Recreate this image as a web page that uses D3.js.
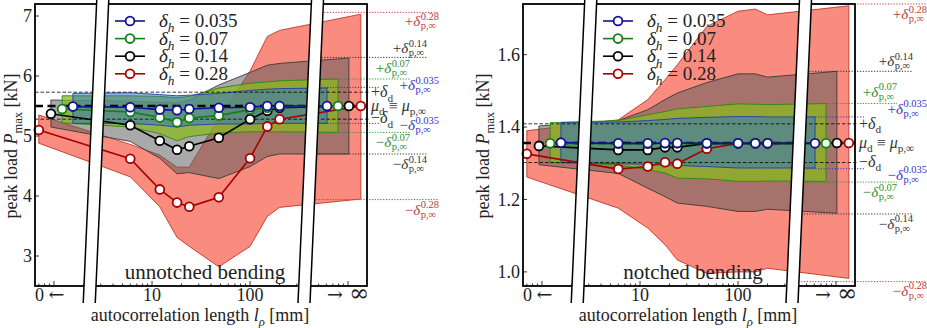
<!DOCTYPE html>
<html>
<head>
<meta charset="utf-8">
<script src="https://cdn.jsdelivr.net/npm/d3@7"></script>
<style>
body { margin: 0; background: #fff; }
#chart, #chart text { font-family: "Liberation Serif", "DejaVu Serif", serif; }
#chart text { fill: #222; }
</style>
</head>
<body>
<svg id="chart" width="927" height="328" font-family="Liberation Serif, DejaVu Serif, serif"></svg>
<script>

//data: series order is delta_h = 0.035, 0.07, 0.14, 0.28
var deltaH = [0.035, 0.07, 0.14, 0.28];
var lengths = [6, 12, 18, 24, 48, 100, 150, 200];   // finite l_rho [mm]
// where the l -> 0 and l -> inf limits sit on the log axis, one per series
var zeroAt = [1.56, 1.21, 0.93, 0.70];
var infAt = [610, 790, 1020, 1350];
var xTicks = [10, 100];

// unnotched bending, each row: [l->0, 6, 12, 18, 24, 48, 100, 150, 200, l->inf]
var unMean = [
  [5.49, 5.48, 5.44, 5.43, 5.45, 5.47, 5.48, 5.50, 5.50, 5.50],
  [5.45, 5.40, 5.31, 5.23, 5.30, 5.34, 5.44, 5.47, 5.49, 5.50],
  [5.37, 5.18, 4.92, 4.77, 4.83, 4.97, 5.28, 5.42, 5.47, 5.50],
  [5.10, 4.62, 4.11, 3.89, 3.82, 3.98, 4.63, 5.16, 5.28, 5.50]
];
var unHi = [
  [5.71, 5.72, 5.69, 5.67, 5.68, 5.71, 5.76, 5.78, 5.79, 5.80],
  [5.67, 5.67, 5.66, 5.64, 5.66, 5.80, 5.88, 5.90, 5.92, 5.95],
  [5.60, 5.58, 5.56, 5.55, 5.60, 5.85, 6.06, 6.18, 6.21, 6.30],
  [5.35, 4.86, 4.68, 4.48, 4.48, 5.30, 6.08, 6.66, 6.76, 7.03]
];
var unLo = [
  [5.21, 5.21, 5.18, 5.15, 5.18, 5.20, 5.20, 5.21, 5.21, 5.21],
  [5.22, 5.15, 5.04, 4.92, 4.99, 5.05, 5.07, 5.07, 5.07, 5.06],
  [5.15, 4.91, 4.63, 4.37, 4.39, 4.29, 4.49, 4.66, 4.70, 4.70],
  [4.88, 4.32, 3.82, 3.31, 3.16, 2.82, 3.16, 3.66, 3.81, 3.95]
];
var unTicks = [3, 4, 5, 6, 7];
var unMu = 5.50;
var unDeltaD = [5.73, 5.28];
var unInfHi = [5.81, 5.95, 6.31, 7.06];
var unInfLo = [5.21, 5.06, 4.70, 3.94];

// notched bending
var notMean = [
  [1.357, 1.355, 1.355, 1.356, 1.356, 1.355, 1.355, 1.355, 1.355, 1.355],
  [1.355, 1.354, 1.354, 1.355, 1.355, 1.355, 1.355, 1.355, 1.355, 1.355],
  [1.348, 1.337, 1.337, 1.344, 1.344, 1.355, 1.355, 1.355, 1.355, 1.356],
  [1.326, 1.284, 1.291, 1.303, 1.299, 1.340, 1.355, 1.355, 1.355, 1.356]
];
var notHi = [
  [1.413, 1.414, 1.418, 1.421, 1.424, 1.427, 1.429, 1.429, 1.428, 1.428],
  [1.412, 1.418, 1.434, 1.443, 1.450, 1.457, 1.464, 1.463, 1.462, 1.465],
  [1.403, 1.418, 1.448, 1.476, 1.494, 1.523, 1.547, 1.547, 1.538, 1.554],
  [1.390, 1.420, 1.476, 1.531, 1.572, 1.678, 1.720, 1.726, 1.710, 1.735]
];
var notLo = [
  [1.302, 1.299, 1.297, 1.295, 1.294, 1.291, 1.287, 1.287, 1.287, 1.287],
  [1.303, 1.296, 1.282, 1.273, 1.259, 1.257, 1.250, 1.250, 1.251, 1.250],
  [1.296, 1.272, 1.231, 1.208, 1.190, 1.181, 1.167, 1.167, 1.173, 1.162],
  [1.262, 1.176, 1.121, 1.075, 1.033, 0.996, 1.000, 1.000, 1.010, 0.982]
];
var notTicks = [1.0, 1.2, 1.4, 1.6];
var notMu = 1.356;
var notDeltaD = [1.409, 1.302];
var notInfHi = [1.428, 1.465, 1.554, 1.740];
var notInfLo = [1.285, 1.248, 1.160, 0.973];


//styles
var lineColor = ["#10109a", "#138013", "#000000", "#a80000"];
var bandFill = ["#2a70c8", "#8ab820", "#5a5a5a", "#f6604c"];
var bandOpacity = [0.5, 0.75, 0.52, 0.72];
var bandEdge = ["#2040a8", "#2a8a10", "#3a3a3a", "#c03828"];
var annColor = ["#3535c8", "#2f8f2f", "#333333", "#c03a3a"];
var serif = '"Liberation Serif", "DejaVu Serif", serif';

var boxW = 332, boxTop = 4, boxBottom = 286;

var panels = [
  {x0: 35, title: "unnotched bending", yDomain: [2.5, 7.2], yTicks: unTicks, fmt: d3.format("d"),
   mean: unMean, lo: unLo, hi: unHi, mu: unMu, dd: unDeltaD, infHi: unInfHi, infLo: unInfLo,
   ylabX: 17, lineEnd: [13, 43, 60, 72], labRight: [72, 43, 60, 72],
   dyHi: [3, -6, -4, 14], dyLo: [7, 15, 15, 15]},
  {x0: 523, title: "notched bending", yDomain: [0.961, 1.740], yTicks: notTicks, fmt: d3.format(".1f"),
   mean: notMean, lo: notLo, hi: notHi, mu: notMu, dd: notDeltaD, infHi: notInfHi, infLo: notInfLo,
   ylabX: 489, lineEnd: [10, 42, 58, 72], labRight: [72, 42, 58, 72],
   dyHi: [-3, -7, -5, 15], dyLo: [11, 15, 15, 14]}
];

var svg = d3.select("#chart");


//text with italic / sub / sup pieces: [text, italic, "sub"|"sup"]
function rich(text, parts, size) {
  var shift = 0;
  text.style("font-family", serif);
  parts.forEach(function(p) {
    var ts = text.append("tspan").text(p[0]);
    var target = p[2] === "sub" ? size * 0.28 : (p[2] === "sup" ? -size * 0.4 : 0);
    if (target !== shift) { ts.attr("dy", target - shift); shift = target; }
    if (p[2]) ts.style("font-size", (size * 0.7) + "px");
    if (p[1]) ts.style("font-style", "italic");
  });
  return text;
}

function txt(g, size) {
  return g.append("text").style("font-family", serif).style("font-size", size + "px");
}

// "+delta^{sup}_{p,inf}" right aligned at xr
function deltaLabel(g, xr, yb, sign, sup, color) {
  var t = g.append("g");
  var main = txt(t, 15).style("fill", color);
  main.append("tspan").text(sign);
  main.append("tspan").style("font-style", "italic").text("δ");
  var w = main.node().getComputedTextLength() + 0.5;
  var s1 = txt(t, 10.5).attr("x", w).attr("y", -6.5).style("fill", color).text(sup);
  var s2 = txt(t, 10.5).attr("x", w).attr("y", 3).style("fill", color).text("p,∞");
  var total = w + Math.max(s1.node().getComputedTextLength(), s2.node().getComputedTextLength());
  t.attr("transform", "translate(" + (xr - total) + "," + yb + ")");
}


function drawPanel(p) {
  var x0 = p.x0, x1 = p.x0 + boxW;
  var x = d3.scaleLog().domain([0.64, 1560]).range([x0, x1]);
  var y = d3.scaleLinear().domain(p.yDomain).range([boxBottom, boxTop]);
  var g = svg.append("g");

  function rows(i) {
    var ls = [zeroAt[i]].concat(lengths, [infAt[i]]);
    return ls.map(function(l, k) {
      return {l: l, m: p.mean[i][k], lo: p.lo[i][k], hi: p.hi[i][k]};
    });
  }

  //bands, widest first
  var area = d3.area()
      .x(function(d) { return x(d.l); })
      .y0(function(d) { return y(d.lo); })
      .y1(function(d) { return y(d.hi); });
  [3, 2, 1, 0].forEach(function(i) {
    g.append("path")
        .attr("d", area(rows(i)))
        .style("fill", bandFill[i])
        .style("fill-opacity", bandOpacity[i])
        .style("stroke", bandEdge[i])
        .style("stroke-width", 0.9);
  });

  //reference lines
  g.append("line")
      .attr("x1", x0).attr("x2", x1)
      .attr("y1", y(p.mu)).attr("y2", y(p.mu))
      .style("stroke", "#000").style("stroke-width", 2.6)
      .style("stroke-dasharray", "8,4.5");
  p.dd.forEach(function(v) {
    g.append("line")
        .attr("x1", x0).attr("x2", x1 + 2)
        .attr("y1", y(v)).attr("y2", y(v))
        .style("stroke", "#000").style("stroke-width", 0.8)
        .style("stroke-dasharray", "3.5,2");
  });
  [0, 1, 2, 3].forEach(function(i) {
    [p.infHi[i], p.infLo[i]].forEach(function(v) {
      g.append("line")
          .attr("x1", x(440)).attr("x2", x1 + p.lineEnd[i])
          .attr("y1", y(v)).attr("y2", y(v))
          .style("stroke", annColor[i]).style("stroke-width", 1)
          .style("stroke-dasharray", "1.2,1.6");
    });
  });

  //series lines and markers
  var line = d3.line()
      .x(function(d) { return x(d.l); })
      .y(function(d) { return y(d.m); });
  [3, 2, 1, 0].forEach(function(i) {
    g.append("path")
        .attr("d", line(rows(i)))
        .style("fill", "none")
        .style("stroke", lineColor[i])
        .style("stroke-width", 1.6);
    g.selectAll(".pt" + i)
        .data(rows(i))
        .enter()
        .append("circle")
        .attr("cx", function(d) { return x(d.l); })
        .attr("cy", function(d) { return y(d.m); })
        .attr("r", 4.4)
        .style("fill", "#fff")
        .style("stroke", lineColor[i])
        .style("stroke-width", 1.8);
  });

  //legend
  deltaH.forEach(function(dh, i) {
    var ly = boxTop + 17 + i * 17.6;
    var lx = x0 + 80;
    g.append("line")
        .attr("x1", lx).attr("x2", lx + 30)
        .attr("y1", ly).attr("y2", ly)
        .style("stroke", lineColor[i]).style("stroke-width", 1.6);
    g.append("circle")
        .attr("cx", lx + 15).attr("cy", ly).attr("r", 4.4)
        .style("fill", "#fff").style("stroke", lineColor[i]).style("stroke-width", 1.8);
    var t = txt(g, 19).attr("x", lx + 44).attr("y", ly + 6);
    rich(t, [["δ", 1], ["h", 1, "sub"], [" = " + dh, 0]], 19);
  });

  //ticks
  p.yTicks.forEach(function(v) {
    g.append("line")
        .attr("x1", x0).attr("x2", x0 + 4)
        .attr("y1", y(v)).attr("y2", y(v))
        .style("stroke", "#000").style("stroke-width", 0.8);
    txt(g, 18)
        .attr("x", x0 - 3).attr("y", y(v))
        .attr("dy", "0.35em")
        .style("text-anchor", "end")
        .text(p.fmt(v));
  });
  for (var k = -1; k <= 3; k++) {
    for (var m = 1; m <= 9; m++) {
      var v = m * Math.pow(10, k);
      if (v < 0.64 || v > 1560) continue;
      g.append("line")
          .attr("x1", x(v)).attr("x2", x(v))
          .attr("y1", boxBottom).attr("y2", boxBottom - (m === 1 ? 5 : 2.5))
          .style("stroke", "#000").style("stroke-width", 0.8);
    }
  }

  //frame
  g.append("rect")
      .attr("x", x0).attr("y", boxTop)
      .attr("width", boxW).attr("height", boxBottom - boxTop)
      .style("fill", "none").style("stroke", "#000").style("stroke-width", 1.8);

  //axis breaks
  [2.7, 419].forEach(function(b) {
    var xc = x(b), slope = 0.0446, ym = 145;
    function cx(yy) { return xc + (ym - yy) * slope; }
    var pts = [[cx(0) - 6, 0], [cx(0) + 6, 0], [cx(303) + 6, 303], [cx(303) - 6, 303]];
    g.append("polygon")
        .attr("points", pts.map(function(q) { return q.join(","); }).join(" "))
        .style("fill", "#fff");
    [-6, 6].forEach(function(o) {
      g.append("line")
          .attr("x1", cx(0) + o).attr("y1", 0)
          .attr("x2", cx(303) + o).attr("y2", 303)
          .style("stroke", "#000").style("stroke-width", 1.5);
    });
  });

  //x tick labels
  var zl = txt(g, 18).attr("x", x0).attr("y", 301);
  zl.append("tspan").text("0 ");
  zl.append("tspan").style("font-family", '"DejaVu Serif", serif').style("font-size", "19px").text("←");
  xTicks.forEach(function(v) {
    txt(g, 18).attr("x", x(v)).attr("y", 301)
        .style("text-anchor", "middle").text(v);
  });
  var il = txt(g, 18).attr("x", x1 + 2).attr("y", 301).style("text-anchor", "end");
  il.append("tspan").style("font-family", '"DejaVu Serif", serif').style("font-size", "19px").text("→ ");
  il.append("tspan").style("font-family", '"DejaVu Serif", serif').style("font-size", "24px").text("∞");

  //axis labels
  rich(txt(g, 18)
      .attr("x", x0 + 165).attr("y", 321)
      .style("text-anchor", "middle"),
      [["autocorrelation length ", 0], ["l", 1], ["ρ", 1, "sub"], [" [mm]", 0]], 18);
  rich(txt(g, 18)
      .attr("transform", "translate(" + p.ylabX + ",146) rotate(-90)")
      .style("text-anchor", "middle"),
      [["peak load ", 0], ["P", 1], ["max", 0, "sub"], [" [kN]", 0]], 18);

  //title
  txt(g, 21)
      .attr("x", x0 + 170).attr("y", 279)
      .style("text-anchor", "middle")
      .text(p.title);

  //right side labels
  rich(txt(g, 16).attr("x", x1 + 4).attr("y", y(p.dd[0]) + 5).style("fill", "#333"),
      [["+", 0], ["δ", 1], ["d", 0, "sub"]], 16);
  rich(txt(g, 16).attr("x", x1 + 4).attr("y", y(p.mu) + 5).style("fill", "#333"),
      [["μ", 1], ["d", 0, "sub"], [" ≡ ", 0], ["μ", 1], ["p,∞", 0, "sub"]], 16);
  rich(txt(g, 16).attr("x", x1 + 4).attr("y", y(p.dd[1]) + 4).style("fill", "#333"),
      [["−", 0], ["δ", 1], ["d", 0, "sub"]], 16);

  deltaH.forEach(function(dh, i) {
    deltaLabel(g, x1 + p.labRight[i], y(p.infHi[i]) + p.dyHi[i], "+", String(dh), annColor[i]);
    deltaLabel(g, x1 + p.labRight[i], y(p.infLo[i]) + p.dyLo[i], "−", String(dh), annColor[i]);
  });
}

panels.forEach(drawPanel);

</script>
</body>
</html>
